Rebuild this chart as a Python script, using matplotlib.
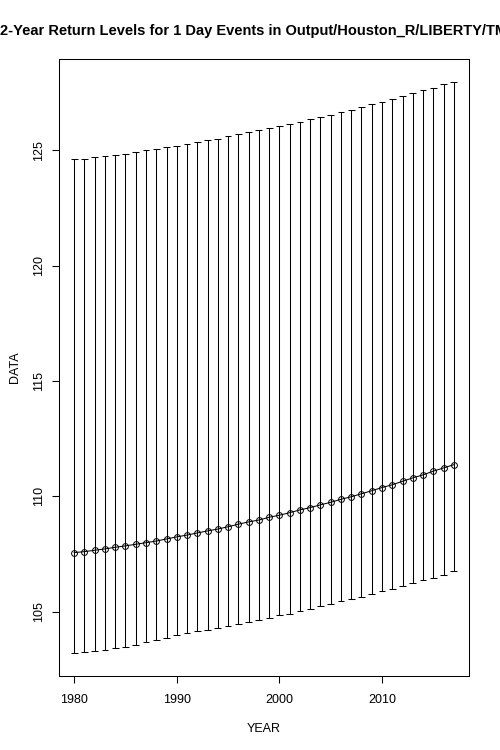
import matplotlib
matplotlib.use("Agg")
import matplotlib.pyplot as plt

years = list(range(1980, 2018))
center = [107.56, 107.60, 107.66, 107.72, 107.79, 107.85, 107.92, 107.99, 108.06, 108.15,
          108.24, 108.32, 108.41, 108.50, 108.58, 108.68, 108.79, 108.89, 108.97, 109.09,
          109.18, 109.29, 109.41, 109.51, 109.63, 109.74, 109.87, 109.98, 110.11, 110.24,
          110.38, 110.50, 110.65, 110.80, 110.93, 111.09, 111.23, 111.37]
upper = [124.61, 124.64, 124.70, 124.74, 124.81, 124.85, 124.93, 125.00, 125.07, 125.13,
         125.20, 125.29, 125.36, 125.43, 125.50, 125.61, 125.69, 125.78, 125.87, 125.95,
         126.04, 126.14, 126.24, 126.34, 126.43, 126.54, 126.65, 126.76, 126.86, 126.99,
         127.11, 127.22, 127.35, 127.47, 127.60, 127.71, 127.86, 127.97]
lower = [103.20, 103.25, 103.31, 103.35, 103.41, 103.48, 103.57, 103.67, 103.76, 103.87,
         103.98, 104.06, 104.15, 104.22, 104.31, 104.39, 104.48, 104.55, 104.64, 104.74,
         104.84, 104.91, 105.03, 105.13, 105.23, 105.33, 105.45, 105.56, 105.65, 105.76,
         105.88, 105.99, 106.11, 106.23, 106.35, 106.47, 106.60, 106.75]
x_ticks = [1980, 1990, 2000, 2010]
y_ticks = [105, 110, 115, 120, 125]
title = "2-Year Return Levels for 1 Day Events in Output/Houston_R/LIBERTY/TMAX"

plt.rcParams['font.family'] = ['Liberation Sans', 'DejaVu Sans']

fig = plt.figure(figsize=(5, 7.5), dpi=100)
ax = fig.add_axes([0.118, 0.0987, 0.82, 0.8226])

for yr, lo, hi in zip(years, lower, upper):
    ax.vlines(yr, lo, hi, color='black', linewidth=0.75)
    ax.hlines([lo, hi], yr - 0.33, yr + 0.33, color='black', linewidth=0.75)

ax.plot(years, center, color='black', linewidth=0.75, marker='o', markersize=4.2,
        markerfacecolor='none', markeredgecolor='black', markeredgewidth=0.7)

xmin, xmax = min(years), max(years)
dx = (xmax - xmin) * 0.04
ax.set_xlim(xmin - dx, xmax + dx)
ymin, ymax = min(lower), max(upper)
dy = (ymax - ymin) * 0.04
ax.set_ylim(ymin - dy, ymax + dy)

ax.set_xticks(x_ticks)
ax.set_xticklabels([str(t) for t in x_ticks])
ax.set_yticks(y_ticks)
ax.set_yticklabels([str(t) for t in y_ticks], rotation=90, va='center')

ax.tick_params(axis='both', direction='out', length=5, width=0.75, labelsize=9)
ax.tick_params(axis='x', pad=8)
ax.tick_params(axis='y', pad=5)
for s in ax.spines.values():
    s.set_linewidth(0.75)

ax.set_xlabel("YEAR", fontsize=9, labelpad=12.5)
ax.set_ylabel("DATA", fontsize=9, labelpad=9)
ax.set_title(title, fontsize=10.5, fontweight='bold', pad=17)

fig.savefig("out.png", dpi=100)
